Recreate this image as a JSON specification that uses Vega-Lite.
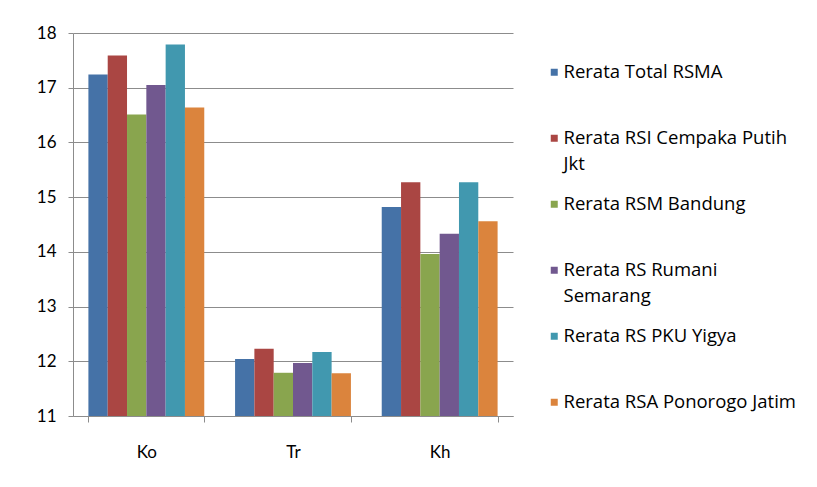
{
  "$schema": "https://vega.github.io/schema/vega-lite/v6.json",
  "width": 440,
  "height": 383,
  "autosize": {"type": "none"},
  "padding": {"left": 73, "top": 33, "right": 304, "bottom": 71},
  "config": {"font": "Lato", "view": {"stroke": null}},
  "data": {
    "values": [
      {"cat": "Ko", "series": "Rerata Total RSMA", "value": 17.24},
      {"cat": "Ko", "series": "Rerata RSI Cempaka Putih Jkt", "value": 17.59},
      {"cat": "Ko", "series": "Rerata RSM Bandung", "value": 16.51},
      {"cat": "Ko", "series": "Rerata RS Rumani Semarang", "value": 17.05},
      {"cat": "Ko", "series": "Rerata RS PKU Yigya", "value": 17.79},
      {"cat": "Ko", "series": "Rerata RSA Ponorogo Jatim", "value": 16.64},
      {"cat": "Tr", "series": "Rerata Total RSMA", "value": 12.04},
      {"cat": "Tr", "series": "Rerata RSI Cempaka Putih Jkt", "value": 12.23},
      {"cat": "Tr", "series": "Rerata RSM Bandung", "value": 11.79},
      {"cat": "Tr", "series": "Rerata RS Rumani Semarang", "value": 11.97},
      {"cat": "Tr", "series": "Rerata RS PKU Yigya", "value": 12.17},
      {"cat": "Tr", "series": "Rerata RSA Ponorogo Jatim", "value": 11.78},
      {"cat": "Kh", "series": "Rerata Total RSMA", "value": 14.82},
      {"cat": "Kh", "series": "Rerata RSI Cempaka Putih Jkt", "value": 15.27},
      {"cat": "Kh", "series": "Rerata RSM Bandung", "value": 13.96},
      {"cat": "Kh", "series": "Rerata RS Rumani Semarang", "value": 14.33},
      {"cat": "Kh", "series": "Rerata RS PKU Yigya", "value": 15.27},
      {"cat": "Kh", "series": "Rerata RSA Ponorogo Jatim", "value": 14.56}
    ]
  },
  "mark": {"type": "bar", "strokeWidth": 0},
  "encoding": {
    "x": {
      "field": "cat", "type": "nominal", "sort": ["Ko", "Tr", "Kh"],
      "scale": {"paddingInner": 0.21, "paddingOuter": 0.105},
      "axis": {"title": null, "labelAngle": 0, "tickBand": "extent", "labelPadding": 22, "labelFontSize": 17, "labelColor": "#000", "domainColor": "#8c8c8c", "tickColor": "#8c8c8c", "tickSize": 6}
    },
    "xOffset": {
      "field": "series", "type": "nominal",
      "sort": ["Rerata Total RSMA", "Rerata RSI Cempaka Putih Jkt", "Rerata RSM Bandung", "Rerata RS Rumani Semarang", "Rerata RS PKU Yigya", "Rerata RSA Ponorogo Jatim"],
      "scale": {"paddingInner": 0, "paddingOuter": 0}
    },
    "y": {
      "field": "value", "type": "quantitative",
      "scale": {"domain": [11, 18], "zero": false, "nice": false},
      "axis": {"title": null, "values": [11, 12, 13, 14, 15, 16, 17, 18], "gridColor": "#8c8c8c", "domainColor": "#8c8c8c", "tickColor": "#8c8c8c", "tickSize": 5, "labelFontSize": 17, "labelColor": "#000", "labelPadding": 12}
    },
    "y2": {"datum": 11},
    "color": {
      "field": "series", "type": "nominal",
      "scale": {
        "domain": ["Rerata Total RSMA", "Rerata RSI Cempaka Putih Jkt", "Rerata RSM Bandung", "Rerata RS Rumani Semarang", "Rerata RS PKU Yigya", "Rerata RSA Ponorogo Jatim"],
        "range": ["#4572A7", "#AA4643", "#89A54E", "#71588F", "#4198AF", "#DB843D"]
      },
      "legend": {
        "title": null, "orient": "none", "legendX": 472, "legendY": 30,
        "symbolType": "square", "symbolSize": 49, "symbolStrokeWidth": 0,
        "labelFont": "Open Sans", "labelFontSize": 18.5, "labelColor": "#000", "labelLimit": 300, "labelOffset": 0,
        "rowPadding": 21, "labelBaseline": "middle",
        "labelExpr": "datum.label == 'Rerata RSI Cempaka Putih Jkt' ? ['Rerata RSI Cempaka Putih', 'Jkt'] : datum.label == 'Rerata RS Rumani Semarang' ? ['Rerata RS Rumani', 'Semarang'] : [datum.label, '']",
        "encode": {"labels": {"update": {"lineHeight": {"value": 26}}}}
      }
    }
  }
}
